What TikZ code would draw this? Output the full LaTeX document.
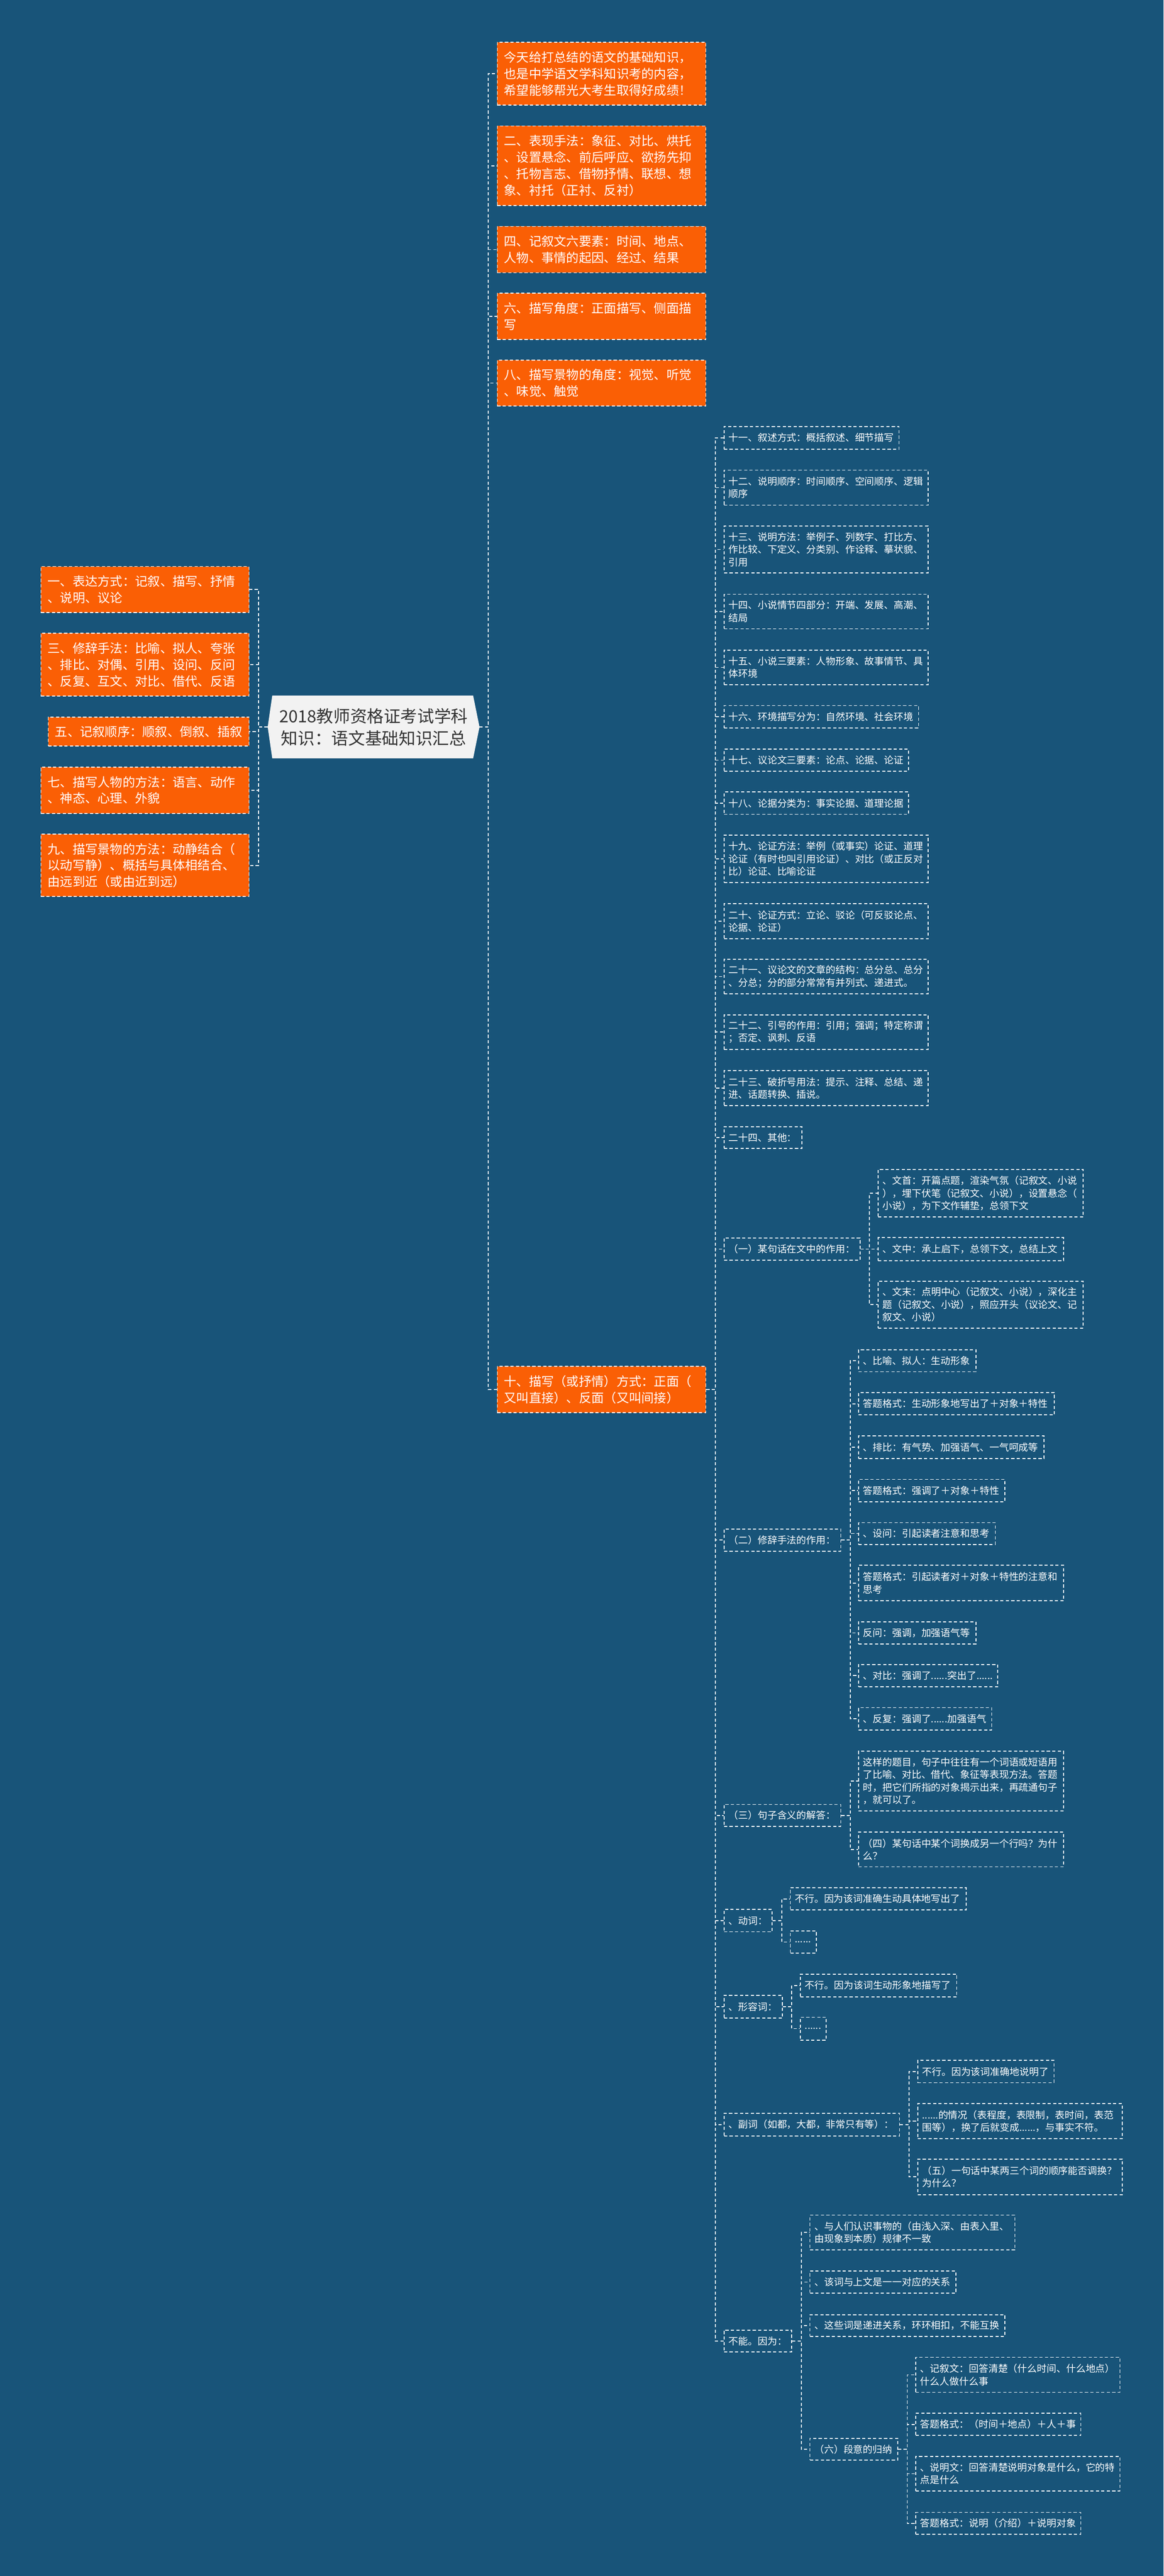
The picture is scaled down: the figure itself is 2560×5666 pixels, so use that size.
\documentclass[tikz,border=0pt]{standalone}
\usepackage{fontspec}
\setmainfont{Noto Sans CJK SC}
\definecolor{bgc}{RGB}{24,84,121}
\definecolor{orng}{RGB}{250,95,5}
\definecolor{rootfill}{RGB}{242,242,242}
\definecolor{roottext}{RGB}{51,51,51}
\newcommand{\dbfont}{\fontsize{21.4pt}{27.7pt}\selectfont}
\newcommand{\obfont}{\fontsize{27.5pt}{36.2pt}\selectfont}
\newcommand{\rtfont}{\fontsize{37pt}{48.5pt}\selectfont}
\begin{document}
\begin{tikzpicture}[x=1pt,y=-1pt,
  dline/.style={draw=white, line width=2pt, dash pattern=on 7pt off 5pt},
  conn/.style={dline},
  obox/.style={dline, fill=orng, text=white, font=\obfont, inner xsep=15pt, inner ysep=5pt, align=left, anchor=north west},
  oboxl/.style={obox, anchor=north east},
  dbox/.style={dline, text=white, font=\dbfont, inner xsep=10pt, inner ysep=5pt, align=left, anchor=north west},
]
\fill[bgc] (0,0) rectangle (2560,5666);
\useasboundingbox (0,0) rectangle (2560,5666);

% root
\fill[rootfill] (599,1530) -- (1041,1530) -- (1055,1599) -- (1041,1668) -- (599,1668) -- (589,1599) -- cycle;
\node[minimum width=466pt, minimum height=138pt, inner sep=0pt, align=center, text=roottext, font=\rtfont] (root) at (822,1599) {2018教师资格证考试学科\\知识：语文基础知识汇总};

% right orange
\node[obox, text width=429pt, minimum height=138pt] (r1) at (1093,92) {今天给打总结的语文的基础知识，\\也是中学语文学科知识考的内容，\\希望能够帮光大考生取得好成绩！};
\node[obox, text width=429pt, minimum height=175pt] (r2) at (1093,276) {二、表现手法：象征、对比、烘托\\、设置悬念、前后呼应、欲扬先抑\\、托物言志、借物抒情、联想、想\\象、衬托（正衬、反衬）};
\node[obox, text width=429pt, minimum height=102pt] (r3) at (1093,497) {四、记叙文六要素：时间、地点、\\人物、事情的起因、经过、结果};
\node[obox, text width=429pt, minimum height=102pt] (r4) at (1093,644) {六、描写角度：正面描写、侧面描\\写};
\node[obox, text width=429pt, minimum height=101pt] (r5) at (1093,791) {八、描写景物的角度：视觉、听觉\\、味觉、触觉};
\node[obox, text width=429pt, minimum height=102pt] (r6) at (1093,3004) {十、描写（或抒情）方式：正面（\\又叫直接）、反面（又叫间接）};

% left orange
\node[oboxl, text width=428pt, minimum height=101pt] (l1) at (549,1245) {一、表达方式：记叙、描写、抒情\\、说明、议论};
\node[oboxl, text width=428pt, minimum height=138pt] (l2) at (549,1392) {三、修辞手法：比喻、拟人、夸张\\、排比、对偶、引用、设问、反问\\、反复、互文、对比、借代、反语};
\node[oboxl, text width=412pt, minimum height=64pt] (l3) at (549,1576) {五、记叙顺序：顺叙、倒叙、插叙};
\node[oboxl, text width=428pt, minimum height=102pt] (l4) at (549,1686) {七、描写人物的方法：语言、动作\\、神态、心理、外貌};
\node[oboxl, text width=428pt, minimum height=137pt] (l5) at (549,1834) {九、描写景物的方法：动静结合（\\以动写静）、概括与具体相结合、\\由远到近（或由近到远）};

% children of 十
\node[dbox, text width=365pt, minimum height=50pt] (n11) at (1592,937) {十一、叙述方式：概括叙述、细节描写};
\node[dbox, text width=429pt, minimum height=77pt] (n12) at (1592,1033) {十二、说明顺序：时间顺序、空间顺序、逻辑\\顺序};
\node[dbox, text width=429pt, minimum height=103pt] (n13) at (1592,1156) {十三、说明方法：举例子、列数字、打比方、\\作比较、下定义、分类别、作诠释、摹状貌、\\引用};
\node[dbox, text width=429pt, minimum height=76pt] (n14) at (1592,1306) {十四、小说情节四部分：开端、发展、高潮、\\结局};
\node[dbox, text width=429pt, minimum height=76pt] (n15) at (1592,1429) {十五、小说三要素：人物形象、故事情节、具\\体环境};
\node[dbox, text width=408pt, minimum height=49pt] (n16) at (1592,1551) {十六、环境描写分为：自然环境、社会环境};
\node[dbox, text width=386pt, minimum height=48pt] (n17) at (1592,1647) {十七、议论文三要素：论点、论据、论证};
\node[dbox, text width=386pt, minimum height=49pt] (n18) at (1592,1741) {十八、论据分类为：事实论据、道理论据};
\node[dbox, text width=429pt, minimum height=104pt] (n19) at (1592,1836) {十九、论证方法：举例（或事实）论证、道理\\论证（有时也叫引用论证）、对比（或正反对\\比）论证、比喻论证};
\node[dbox, text width=429pt, minimum height=77pt] (n20) at (1592,1987) {二十、论证方式：立论、驳论（可反驳论点、\\论据、论证）};
\node[dbox, text width=429pt, minimum height=76pt] (n21) at (1592,2109) {二十一、议论文的文章的结构：总分总、总分\\、分总；分的部分常常有并列式、递进式。};
\node[dbox, text width=429pt, minimum height=76pt] (n22) at (1592,2231) {二十二、引号的作用：引用；强调；特定称谓\\；否定、讽刺、反语};
\node[dbox, text width=429pt, minimum height=77pt] (n23) at (1592,2354) {二十三、破折号用法：提示、注释、总结、递\\进、话题转换、插说。};
\node[dbox, text width=151pt, minimum height=48pt] (n24) at (1592,2477) {二十四、其他：};

% (一)
\node[dbox, text width=279pt, minimum height=49pt] (a1) at (1592,2722) {（一）某句话在文中的作用：};
\node[dbox, text width=431pt, minimum height=105pt] (a1a) at (1931,2571) {、文首：开篇点题，渲染气氛（记叙文、小说\\），埋下伏笔（记叙文、小说），设置悬念（\\小说），为下文作辅垫，总领下文};
\node[dbox, text width=388pt, minimum height=51pt] (a1b) at (1931,2721) {、文中：承上启下，总领下文，总结上文};
\node[dbox, text width=431pt, minimum height=103pt] (a1c) at (1931,2817) {、文末：点明中心（记叙文、小说），深化主\\题（记叙文、小说），照应开头（议论文、记\\叙文、小说）};

% (二)
\node[dbox, text width=237pt, minimum height=49pt] (a2) at (1592,3362) {（二）修辞手法的作用：};
\node[dbox, text width=238pt, minimum height=48pt] (b1) at (1888,2968) {、比喻、拟人：生动形象};
\node[dbox, text width=411pt, minimum height=49pt] (b2) at (1888,3062) {答题格式：生动形象地写出了＋对象＋特性};
\node[dbox, text width=388pt, minimum height=50pt] (b3) at (1888,3157) {、排比：有气势、加强语气、一气呵成等};
\node[dbox, text width=302pt, minimum height=49pt] (b4) at (1888,3253) {答题格式：强调了＋对象＋特性};
\node[dbox, text width=281pt, minimum height=48pt] (b5) at (1888,3348) {、设问：引起读者注意和思考};
\node[dbox, text width=431pt, minimum height=78pt] (b6) at (1888,3442) {答题格式：引起读者对＋对象＋特性的注意和\\思考};
\node[dbox, text width=238pt, minimum height=49pt] (b7) at (1888,3566) {反问：强调，加强语气等};
\node[dbox, text width=286pt, minimum height=49pt] (b8) at (1888,3660) {、对比：强调了......突出了......};
\node[dbox, text width=273pt, minimum height=49pt] (b9) at (1888,3755) {、反复：强调了......加强语气};

% (三)
\node[dbox, text width=237pt, minimum height=48pt] (a3) at (1592,3968) {（三）句子含义的解答：};
\node[dbox, text width=431pt, minimum height=131pt] (c1) at (1888,3851) {这样的题目，句子中往往有一个词语或短语用\\了比喻、对比、借代、象征等表现方法。答题\\时，把它们所指的对象揭示出来，再疏通句子\\，就可以了。};
\node[dbox, text width=431pt, minimum height=76pt] (c2) at (1888,4029) {（四）某句话中某个词换成另一个行吗？为什\\么？};

% 动词
\node[dbox, text width=86pt, minimum height=49pt] (a4) at (1592,4199) {、动词：};
\node[dbox, text width=367pt, minimum height=49pt] (d1) at (1738,4151) {不行。因为该词准确生动具体地写出了};
\node[dbox, text width=37pt, minimum height=49pt] (d2) at (1738,4246) {......};

% 形容词
\node[dbox, text width=108pt, minimum height=50pt] (a5) at (1592,4388) {、形容词：};
\node[dbox, text width=324pt, minimum height=50pt] (e1) at (1760,4341) {不行。因为该词生动形象地描写了};
\node[dbox, text width=37pt, minimum height=50pt] (e2) at (1760,4436) {......};

% 副词
\node[dbox, text width=366pt, minimum height=50pt] (a6) at (1592,4647) {、副词（如都，大都，非常只有等）：};
\node[dbox, text width=280pt, minimum height=49pt] (f1) at (2018,4531) {不行。因为该词准确地说明了};
\node[dbox, text width=430pt, minimum height=77pt] (f2) at (2018,4626) {......的情况（表程度，表限制，表时间，表范\\围等），换了后就变成......，与事实不符。};
\node[dbox, text width=430pt, minimum height=78pt] (f3) at (2018,4748) {（五）一句话中某两三个词的顺序能否调换？\\为什么？};

% 不能
\node[dbox, text width=129pt, minimum height=48pt] (a7) at (1592,5124) {不能。因为：};
\node[dbox, text width=431pt, minimum height=77pt] (g1) at (1781,4871) {、与人们认识事物的（由浅入深、由表入里、\\由现象到本质）规律不一致};
\node[dbox, text width=301pt, minimum height=49pt] (g2) at (1781,4994) {、该词与上文是一一对应的关系};
\node[dbox, text width=409pt, minimum height=48pt] (g3) at (1781,5090) {、这些词是递进关系，环环相扣，不能互换};
\node[dbox, text width=173pt, minimum height=48pt] (g4) at (1781,5362) {（六）段意的归纳};
\node[dbox, text width=429pt, minimum height=77pt] (h1) at (2014,5184) {、记叙文：回答清楚（什么时间、什么地点）\\什么人做什么事};
\node[dbox, text width=343pt, minimum height=49pt] (h2) at (2014,5307) {答题格式：（时间＋地点）＋人＋事};
\node[dbox, text width=429pt, minimum height=76pt] (h3) at (2014,5402) {、说明文：回答清楚说明对象是什么，它的特\\点是什么};
\node[dbox, text width=343pt, minimum height=48pt] (h4) at (2014,5525) {答题格式：说明（介绍）＋说明对象};

% connectors
\foreach \kid in {r1,r2,r3,r4,r5,r6}
  \draw[conn] (root.east) -- ++(19,0) |- (\kid.west);
\foreach \kid in {l1,l2,l3,l4,l5}
  \draw[conn] (root.west) -- ++(-20,0) |- (\kid.east);
\foreach \kid in {n11,n12,n13,n14,n15,n16,n17,n18,n19,n20,n21,n22,n23,n24,a1,a2,a3,a4,a5,a6,a7}
  \draw[conn] (r6.east) -- ++(20,0) |- (\kid.west);
\foreach \kid in {a1a,a1b,a1c}
  \draw[conn] (a1.east) -- ++(20,0) |- (\kid.west);
\foreach \kid in {b1,b2,b3,b4,b5,b6,b7,b8,b9}
  \draw[conn] (a2.east) -- ++(20,0) |- (\kid.west);
\foreach \kid in {c1,c2}
  \draw[conn] (a3.east) -- ++(20,0) |- (\kid.west);
\foreach \kid in {d1,d2}
  \draw[conn] (a4.east) -- ++(20,0) |- (\kid.west);
\foreach \kid in {e1,e2}
  \draw[conn] (a5.east) -- ++(20,0) |- (\kid.west);
\foreach \kid in {f1,f2,f3}
  \draw[conn] (a6.east) -- ++(20,0) |- (\kid.west);
\foreach \kid in {g1,g2,g3,g4}
  \draw[conn] (a7.east) -- ++(20,0) |- (\kid.west);
\foreach \kid in {h1,h2,h3,h4}
  \draw[conn] (g4.east) -- ++(20,0) |- (\kid.west);
\end{tikzpicture}
\end{document}
